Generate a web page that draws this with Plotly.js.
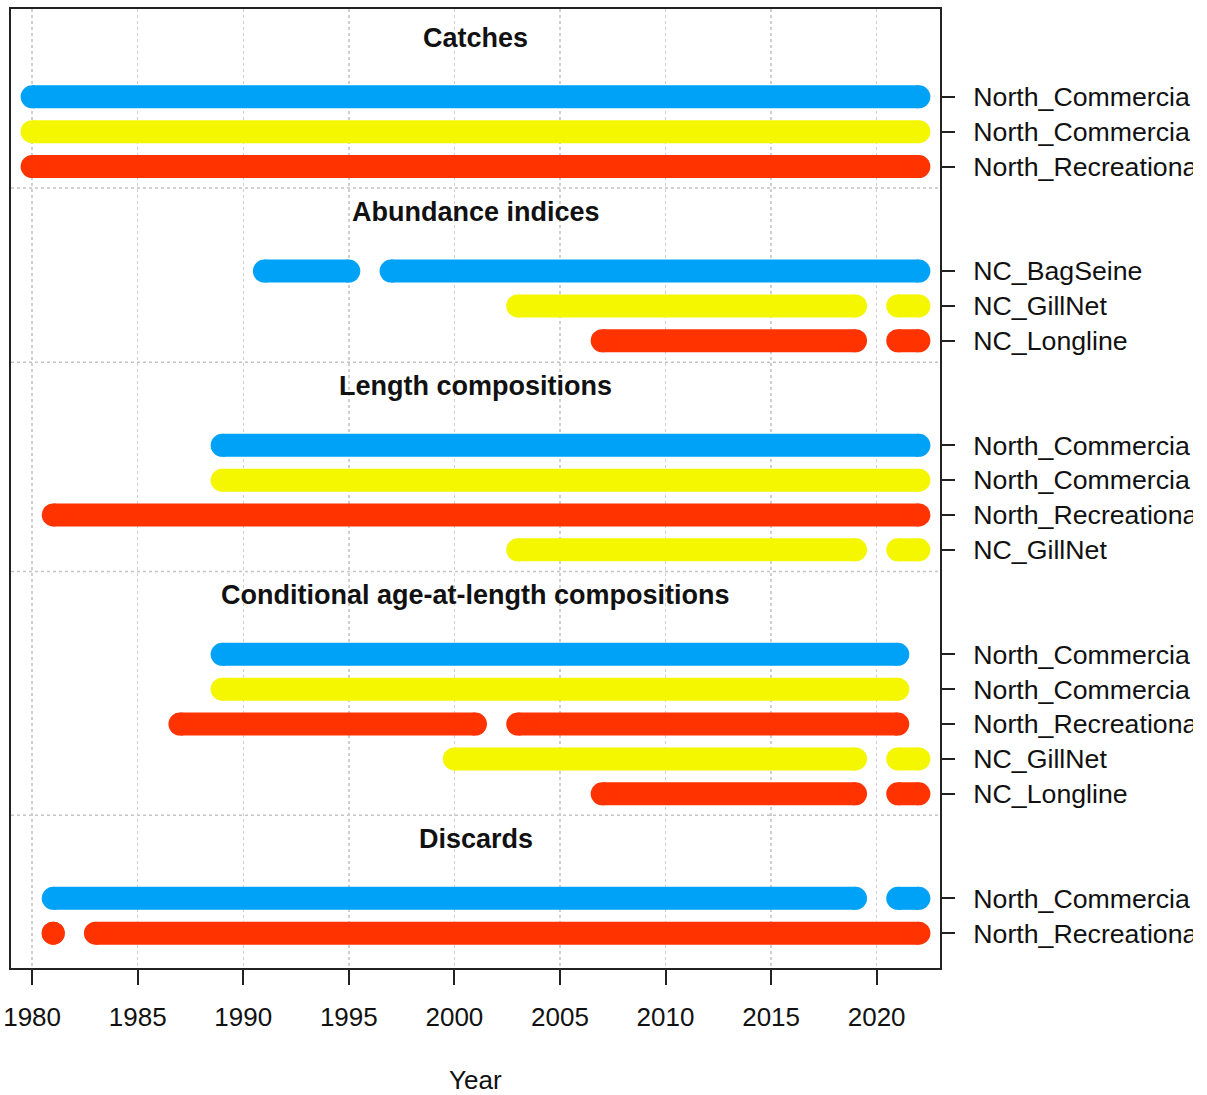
<!DOCTYPE html>
<html>
<head>
<meta charset="utf-8">
<script src="https://cdn.plot.ly/plotly-3.0.1.min.js"></script>
<style>html,body{margin:0;padding:0;background:#fff;}#chart{width:1207px;height:1095px;}</style>
</head>
<body>
<div id="chart"></div>
<script>
// ---- data ----
const groupTitles = ["Catches", "Abundance indices", "Length compositions", "Conditional age-at-length compositions", "Discards"];
const rowLabels = ["North_Commercia","North_Commercia","North_Recreationa",
  "NC_BagSeine","NC_GillNet","NC_Longline",
  "North_Commercia","North_Commercia","North_Recreationa","NC_GillNet",
  "North_Commercia","North_Commercia","North_Recreationa","NC_GillNet","NC_Longline",
  "North_Commercia","North_Recreationa"];
const rowGroup = [0,0,0, 1,1,1, 2,2,2,2, 3,3,3,3,3, 4,4];
const rowFleetColor = [0,1,2, 0,1,2, 0,1,2,1, 0,1,2,1,2, 0,2];
const segStart = [[1980],[1980],[1980],
  [1991,1997],[2003,2021],[2007,2021],
  [1989],[1989],[1981],[2003,2021],
  [1989],[1989],[1987,2003],[2000,2021],[2007,2021],
  [1981,2021],[1981,1983]];
const segEnd = [[2022],[2022],[2022],
  [1995,2022],[2019,2022],[2019,2022],
  [2022],[2022],[2022],[2019,2022],
  [2021],[2021],[2001,2021],[2019,2022],[2019,2022],
  [2019,2022],[1981,2022]];
const xTicks = [1980,1985,1990,1995,2000,2005,2010,2015,2020];
const fleetColors = ["#00A2F7", "#F4F700", "#FF3300"];

// ---- layout of rows (group gap = 3 row units) ----
const rowPos = [];
const groupFirst = [];
let pos = 0;
for (let i = 0; i < rowLabels.length; i++) {
  if (i > 0 && rowGroup[i] !== rowGroup[i-1]) pos += 3;
  else if (i > 0) pos += 1;
  rowPos.push(pos);
  if (groupFirst[rowGroup[i]] === undefined) groupFirst[rowGroup[i]] = pos;
}
const lastPos = rowPos[rowPos.length-1];

const FONT = "Liberation Sans, Arial, Helvetica, sans-serif";
const BARW = 23;

const traces = rowLabels.map((lab, i) => {
  const xs = [], ys = [];
  segStart[i].forEach((s, k) => {
    if (k > 0) { xs.push(null); ys.push(null); }
    xs.push(s, segEnd[i][k]); ys.push(rowPos[i], rowPos[i]);
  });
  const c = fleetColors[rowFleetColor[i]];
  return {
    type: "scatter", mode: "lines+markers", x: xs, y: ys,
    line: {color: c, width: BARW},
    marker: {color: c, size: BARW, symbol: "circle", line: {width: 0}},
    connectgaps: false, showlegend: false, hoverinfo: "skip", name: lab
  };
});

const shapes = groupFirst.slice(1).map(g => ({
  type: "line", xref: "paper", x0: 0, x1: 1, yref: "y", y0: g - 2.38, y1: g - 2.38,
  line: {color: "#C4C4C4", width: 1.5, dash: "dot"}, layer: "below"
}));
// picture edge (labels cut off at the right edge in the original image)
shapes.push({
  type: "rect", xref: "paper", yref: "paper", x0: 1.2723, x1: 1.30, y0: -0.2, y1: 1.02,
  fillcolor: "#fff", line: {width: 0}, layer: "above"
});

const annotations = groupTitles.map((t, gi) => ({
  text: "<b>" + t + "</b>", xref: "paper", x: 0.5, yref: "y", y: groupFirst[gi] - 1.7,
  showarrow: false, xanchor: "center", yanchor: "middle",
  font: {family: FONT, size: 27, color: "#111"}
}));
annotations.push({
  text: "Year", xref: "paper", x: 0.5, yref: "paper", y: -0.117, showarrow: false,
  xanchor: "center", yanchor: "middle", font: {family: FONT, size: 26, color: "#111"}
});

const layout = {
  width: 1207, height: 1095,
  margin: {l: 11, r: 267, t: 9, b: 127, pad: 0},
  paper_bgcolor: "#fff", plot_bgcolor: "#fff",
  showlegend: false,
  xaxis: {
    range: [1979, 2023], tickvals: xTicks, ticktext: xTicks.map(String),
    ticks: "outside", ticklen: 15, tickwidth: 2, tickcolor: "#222",
    ticklabelstandoff: 10,
    showline: true, linecolor: "#222", linewidth: 2, mirror: true,
    showgrid: true, gridcolor: "#CFCFCF", gridwidth: 1.5, griddash: "dot",
    zeroline: false, tickfont: {family: FONT, size: 26, color: "#111"}
  },
  yaxis: {
    range: [lastPos + 1, -2.52], side: "right",
    tickvals: rowPos, ticktext: rowLabels,
    ticks: "outside", ticklen: 13, tickwidth: 2, tickcolor: "#222",
    ticklabelstandoff: 13,
    showline: true, linecolor: "#222", linewidth: 2, mirror: true,
    showgrid: false, zeroline: false,
    tickfont: {family: FONT, size: 26.7, color: "#111"}
  },
  shapes: shapes,
  annotations: annotations
};

Plotly.newPlot("chart", traces, layout, {displayModeBar: false, staticPlot: true});
</script>
</body>
</html>
